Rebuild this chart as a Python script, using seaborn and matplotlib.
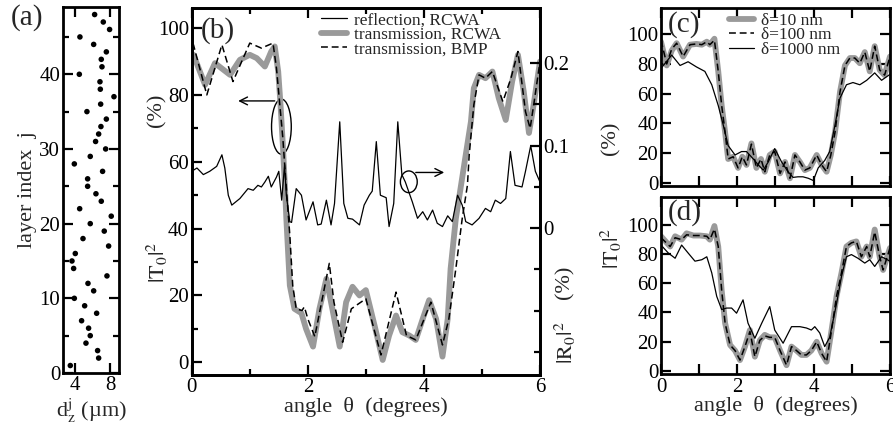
import numpy as np
import pandas as pd
import matplotlib
matplotlib.use("Agg")
import matplotlib.pyplot as plt
from matplotlib.patches import Ellipse
from matplotlib.lines import Line2D
from matplotlib.ticker import MultipleLocator, FixedLocator
import seaborn as sns

sns.set_theme(style="ticks")
plt.rcParams["font.family"] = "serif"
plt.rcParams["font.serif"] = ["Liberation Serif", "DejaVu Serif"]
plt.rcParams["mathtext.fontset"] = "stix"

GRAY = "#9a9a9a"

####### DATA ###############################################
# (a) layer thickness per layer index
layer_j = list(range(1, 49))
layer_dz = [3.43, 6.67, 6.55, 5.22, 5.71, 5.52, 4.72, 6.44, 5.07, 3.89,
            6.10, 5.45, 7.62, 3.81, 3.62, 4.00, 7.81, 4.88, 7.31, 5.71,
            8.11, 4.50, 6.97, 6.36, 5.41, 5.41, 7.12, 3.89, 5.71, 7.47,
            6.32, 6.67, 6.93, 7.55, 5.33, 6.90, 8.42, 6.86, 6.82, 4.46,
            7.05, 6.97, 7.55, 6.10, 4.53, 7.92, 7.20, 6.21]

# (b) transmission RCWA
b_trcwa_x = [0.0, 0.03, 0.23, 0.4, 0.66, 0.83, 1.0, 1.12, 1.26, 1.37, 1.43, 1.49,
             1.53, 1.57, 1.61, 1.63, 1.66, 1.69, 1.77, 1.89, 1.97, 2.09, 2.2, 2.32,
             2.4, 2.55, 2.66, 2.77, 2.89, 3.0, 3.15, 3.29, 3.4, 3.52, 3.63, 3.75,
             3.86, 3.98, 4.09, 4.21, 4.32, 4.41, 4.46, 4.55, 4.64, 4.72, 4.81, 4.86,
             4.95, 5.06, 5.18, 5.29, 5.41, 5.52, 5.62, 5.72, 5.81, 5.89, 6.0]
b_trcwa_y = [91, 92, 83, 89.5, 86, 90.5, 92, 91, 88.5, 93, 94.5, 87,
             77, 65, 51, 43, 33, 23, 16, 14.7, 10, 4.7, 16, 25,
             18, 4.7, 18, 22.6, 20, 21.6, 11, 0.7, 8, 14, 9, 8,
             6.7, 13, 18.6, 13, 1.7, 13, 28, 43, 53, 62, 72, 82,
             86, 85, 87, 79, 72.5, 84, 92, 81, 68.6, 77, 90]

# (b) transmission BMP
b_tbmp_x = [0.0, 0.03, 0.26, 0.52, 0.71, 1.0, 1.2, 1.4, 1.46, 1.57, 1.63, 1.69,
            1.74, 1.8, 1.9, 1.94, 2.0, 2.12, 2.37, 2.45, 2.6, 2.75, 2.89, 3.0,
            3.26, 3.52, 3.7, 3.86, 4.12, 4.32, 4.43, 4.55, 4.66, 4.75, 4.78, 4.86,
            4.95, 5.06, 5.18, 5.36, 5.5, 5.62, 5.75, 5.83, 5.9, 6.0]
b_tbmp_y = [95, 95, 80, 95, 84, 95.5, 94, 95.5, 88, 67, 52, 38,
            23, 16, 15.5, 16.6, 13, 7.7, 29.6, 18, 6, 16, 17.7, 19,
            2.2, 21, 8, 6.7, 18, 5.2, 13, 28, 43, 53, 62, 77,
            86, 85, 87, 78, 85, 93, 75, 70, 78, 90]

# (b) reflection RCWA (right axis)
b_r_x = [0.0, 0.09, 0.2, 0.31, 0.43, 0.52, 0.57, 0.63, 0.69, 0.83, 0.97, 1.06,
         1.14, 1.2, 1.26, 1.32, 1.37, 1.46, 1.5, 1.55, 1.6, 1.63, 1.69, 1.72,
         1.8, 1.89, 1.97, 2.09, 2.17, 2.23, 2.32, 2.4, 2.46, 2.55, 2.62, 2.69,
         2.77, 2.89, 2.97, 3.06, 3.11, 3.18, 3.25, 3.35, 3.4, 3.48, 3.55, 3.62,
         3.68, 3.8, 3.89, 3.98, 4.06, 4.15, 4.23, 4.32, 4.41, 4.49, 4.58, 4.66,
         4.72, 4.83, 4.95, 5.06, 5.15, 5.23, 5.32, 5.41, 5.49, 5.57, 5.69, 5.75,
         5.84, 5.92, 6.0]
b_r_y = [0.069, 0.073, 0.065, 0.069, 0.075, 0.089, 0.073, 0.040, 0.028, 0.036, 0.048, 0.046,
         0.052, 0.050, 0.056, 0.063, 0.050, 0.062, 0.069, 0.034, 0.077, 0.040, 0.008, 0.007,
         0.048, 0.040, 0.010, 0.032, 0.004, 0.005, 0.034, 0.004, 0.030, 0.129, 0.030, 0.012,
         0.011, 0.004, 0.028, 0.040, 0.045, 0.105, 0.040, 0.037, 0.002, 0.030, 0.129, 0.065,
         0.056, 0.032, 0.012, 0.020, 0.010, 0.022, 0.006, 0.002, 0.015, 0.008, 0.040, 0.028,
         0.008, 0.004, 0.012, 0.024, 0.020, 0.034, 0.030, 0.036, 0.093, 0.052, 0.050, 0.069,
         0.100, 0.069, 0.056]
b_r_ticks = [0, 0.1, 0.2]
b_r_ticklabels = ["0", "0.1", "0.2"]

# (c) |T0|^2 for three roughness values
c_x10 = [0.0, 0.15, 0.28, 0.41, 0.58, 0.76, 0.93, 1.07, 1.2, 1.28, 1.4, 1.5,
         1.59, 1.68, 1.76, 1.89, 2.02, 2.13, 2.24, 2.37, 2.5, 2.62, 2.72, 2.85,
         2.98, 3.12, 3.25, 3.38, 3.51, 3.64, 3.77, 3.9, 4.08, 4.21, 4.34, 4.45,
         4.56, 4.69, 4.82, 4.95, 5.08, 5.21, 5.34, 5.47, 5.6, 5.73, 5.86, 6.0]
c_y10 = [95, 79, 89, 94, 85, 93, 93.5, 93, 95, 93, 97, 75,
         52, 34, 16, 17.5, 10, 17.5, 12, 26.5, 10, 16, 7.4, 18.7,
         21, 6.3, 14, 3, 18.7, 14, 8.5, 10, 18.7, 12, 7.4, 18.7,
         34, 61, 79, 84, 84, 80.5, 88, 75, 92, 76, 72.5, 85]
c_y100 = [96, 80, 90, 94, 85, 93, 93.5, 93, 95, 93, 96, 75,
          52, 34, 16, 17.5, 10, 17.5, 12, 26, 10, 16, 7.4, 18.7,
          21, 6.3, 14, 3, 18.7, 14, 8.5, 10, 18.7, 12, 7.4, 18.7,
          34, 61, 79, 84, 84, 80.5, 88, 75, 92, 76, 72.5, 85]
c_x1000 = [0.0, 0.28, 0.5, 0.71, 0.93, 1.15, 1.33, 1.5, 1.63, 1.76, 1.94, 2.11,
           2.24, 2.42, 2.55, 2.68, 2.81, 2.98, 3.16, 3.33, 3.46, 3.59, 3.72, 3.86,
           3.99, 4.12, 4.29, 4.42, 4.56, 4.69, 4.86, 5.03, 5.21, 5.39, 5.6, 5.78, 6.0]
c_y1000 = [77, 86, 79, 81.5, 78, 75, 66, 52, 39, 25, 18.7, 21,
           21, 16, 12, 8.5, 14, 23, 14, 7.4, 3.6, 4, 4, 3,
           1.5, 10, 15, 21, 39, 57, 66, 67.5, 66, 69, 74, 69, 73]

# (d) |T0|^2 for three roughness values
d_x10 = [0.0, 0.24, 0.37, 0.54, 0.67, 0.85, 1.02, 1.2, 1.28, 1.4, 1.5, 1.59,
         1.68, 1.81, 1.94, 2.07, 2.2, 2.33, 2.46, 2.59, 2.72, 2.85, 2.98, 3.12,
         3.29, 3.42, 3.55, 3.68, 3.81, 3.94, 4.08, 4.21, 4.34, 4.47, 4.6, 4.73,
         4.86, 4.99, 5.12, 5.25, 5.39, 5.47, 5.6, 5.73, 5.82, 6.0]
d_y10 = [92, 85, 92, 89.7, 94, 92.5, 92.5, 92, 89.7, 99, 85, 55,
         32.7, 17.8, 14, 7.5, 16.7, 28, 9.8, 21, 24.7, 23, 23, 14,
         4, 16.7, 14, 11, 11, 14, 20, 12, 6.4, 28, 51, 67,
         85, 87.5, 88.5, 78, 85, 78, 96.6, 78, 69, 84]
d_y100 = [91, 85, 91, 89.7, 93, 92.5, 92.5, 92, 89.7, 97, 85, 55,
          32.7, 17.8, 14, 7.5, 16.7, 27, 9.8, 21, 24, 23, 23, 14,
          4, 16.7, 14, 11, 11, 14, 20, 12, 6.4, 28, 51, 67,
          85, 87.5, 88.5, 78, 85, 78, 95, 78, 69, 84]
d_x1000 = [0.0, 0.19, 0.37, 0.54, 0.71, 0.89, 1.07, 1.2, 1.33, 1.46, 1.59, 1.72,
           1.85, 1.98, 2.15, 2.28, 2.46, 2.64, 2.85, 2.98, 3.2, 3.42, 3.64, 3.81,
           3.94, 4.03, 4.16, 4.29, 4.42, 4.6, 4.73, 4.86, 4.99, 5.16, 5.34, 5.47,
           5.6, 5.78, 6.0]
d_y1000 = [86, 80.6, 77, 86, 80.6, 75, 76, 78, 67, 51, 42, 43,
           43, 39.5, 48.6, 32.7, 22.4, 32.7, 44, 28, 19, 30.3, 30.3, 29.4,
           28, 30.3, 26, 16.7, 23, 46, 64.6, 78, 79.5, 77, 73.7, 76,
           71.4, 78, 75]

legend_b = ["reflection, RCWA", "transmission, RCWA", "transmission, BMP"]
legend_cd = ["δ=10 nm", "δ=100 nm", "δ=1000 nm"]
####### END DATA ###########################################

TICK_FS = 15
LAB_FS = 16
PAN_FS = 21
LEG_FS = 12.5
DASH = (0, (4.5, 2.5))

fig = plt.figure(figsize=(8.93, 4.28), dpi=100)
fig.patch.set_facecolor("white")


def style(ax, right=True):
    for s in ax.spines.values():
        s.set_linewidth(2.0)
        s.set_color("black")
    ax.tick_params(which="both", direction="in", top=True, right=right,
                   width=1.6, labelsize=TICK_FS, colors="black", pad=2)
    ax.tick_params(which="major", length=7)
    ax.tick_params(which="minor", length=4.5)
    ax.set_facecolor("white")
    ax.grid(False)


# ---------- (a) ----------
ax_a = fig.add_axes([0.0706, 0.1285, 0.0627, 0.855])
sns.scatterplot(x=layer_dz, y=layer_j, ax=ax_a, color="black", s=16,
                edgecolor="none", legend=False)
ax_a.set_xlim(2.6, 9.0)
ax_a.set_ylim(0, 49)
ax_a.xaxis.set_major_locator(MultipleLocator(4))
ax_a.yaxis.set_major_locator(MultipleLocator(10))
ax_a.yaxis.set_minor_locator(MultipleLocator(5))
style(ax_a)
ax_a.set_xlabel(r"d$_\mathrm{z}^\mathrm{j}$ (µm)", fontsize=LAB_FS, labelpad=1)
ax_a.set_ylabel("layer index  j", fontsize=LAB_FS, labelpad=2)
fig.text(0.012, 0.99, "(a)", fontsize=PAN_FS, va="top", ha="left")

# ---------- (b) ----------
ax_b = fig.add_axes([0.2147, 0.1238, 0.39, 0.8575])
sns.lineplot(x=b_trcwa_x, y=b_trcwa_y, ax=ax_b, color=GRAY, lw=4.2,
             estimator=None, sort=False)
sns.lineplot(x=b_tbmp_x, y=b_tbmp_y, ax=ax_b, color="black", lw=1.1,
             linestyle=DASH, estimator=None, sort=False)
ax_b.set_xlim(0, 6)
ax_b.set_ylim(-3.8, 106)
ax_b.xaxis.set_major_locator(MultipleLocator(2))
ax_b.xaxis.set_minor_locator(MultipleLocator(1))
ax_b.yaxis.set_major_locator(MultipleLocator(20))
ax_b.yaxis.set_minor_locator(MultipleLocator(10))
style(ax_b, right=False)
ax_b.set_xlabel("angle  θ  (degrees)", fontsize=LAB_FS, labelpad=0)
ax_b.set_ylabel("")

ax_r = ax_b.twinx()
sns.lineplot(x=b_r_x, y=b_r_y, ax=ax_r, color="black", lw=0.9,
             estimator=None, sort=False)
ax_r.set_ylim(-0.178, 0.267)
ax_r.yaxis.set_major_locator(FixedLocator(b_r_ticks))
ax_r.yaxis.set_minor_locator(FixedLocator([-0.15, -0.1, -0.05, 0.05, 0.15]))
ax_r.set_yticklabels(b_r_ticklabels)
style(ax_r)
ax_r.tick_params(which="both", left=False, top=False)
ax_r.set_ylabel("")
ax_r.set_xlim(0, 6)

ax_b.text(0.025, 0.975, "(b)", transform=ax_b.transAxes, fontsize=PAN_FS,
          va="top", ha="left")

# annotations
ax_b.add_patch(Ellipse((1.545, 70.5), 0.34, 16.5, fill=False, lw=1.0, ec="black"))
ax_b.annotate("", xy=(0.8, 78.2), xytext=(1.43, 78.2),
              arrowprops=dict(arrowstyle="->", lw=1.0, color="black",
                              mutation_scale=14, shrinkA=0, shrinkB=0))
ax_b.add_patch(Ellipse((3.74, 54), 0.29, 6.5, fill=False, lw=1.0, ec="black"))
ax_b.annotate("", xy=(4.35, 56.8), xytext=(3.86, 56.8),
              arrowprops=dict(arrowstyle="->", lw=1.0, color="black",
                              mutation_scale=14, shrinkA=0, shrinkB=0))

hb = [Line2D([], [], color="black", lw=0.9),
      Line2D([], [], color=GRAY, lw=4.2),
      Line2D([], [], color="black", lw=1.1, linestyle=DASH)]
ax_r.legend(hb, legend_b, loc="upper left", bbox_to_anchor=(0.36, 1.0),
            frameon=False, fontsize=LEG_FS, handlelength=1.5, handletextpad=0.4,
            labelspacing=-0.1, borderaxespad=0.15, borderpad=0.1)

# y labels of (b)
fig.text(0.176, 1 - 110 / 428, "(%)", rotation=90, fontsize=LAB_FS,
         ha="center", va="center")
fig.text(0.176, 1 - 262 / 428, r"$|\mathrm{T}_0|^2$", rotation=90, fontsize=LAB_FS,
         ha="center", va="center")
fig.text(565 / 893, 1 - 282 / 428, "(%)", rotation=90, fontsize=LAB_FS,
         ha="center", va="center")
fig.text(565 / 893, 1 - 343 / 428, r"$|\mathrm{R}_0|^2$", rotation=90, fontsize=LAB_FS,
         ha="center", va="center")

# ---------- (c) and (d) ----------
ax_c = fig.add_axes([0.7402, 0.5661, 0.2564, 0.4145])
ax_d = fig.add_axes([0.7402, 0.1262, 0.2564, 0.4142])

panels = [(ax_c, c_x10, c_y10, c_y100, c_x1000, c_y1000, (-2, 117.5), "(c)"),
          (ax_d, d_x10, d_y10, d_y100, d_x1000, d_y1000, (-2, 119), "(d)")]
for ax, x10, y10, y100, x1000, y1000, ylim, tag in panels:
    sns.lineplot(x=x10, y=y10, ax=ax, color=GRAY, lw=4.2, estimator=None, sort=False)
    sns.lineplot(x=x10, y=y100, ax=ax, color="black", lw=1.1, linestyle=DASH,
                 estimator=None, sort=False)
    sns.lineplot(x=x1000, y=y1000, ax=ax, color="black", lw=0.9,
                 estimator=None, sort=False)
    ax.set_xlim(0, 6)
    ax.set_ylim(*ylim)
    ax.xaxis.set_major_locator(MultipleLocator(2))
    ax.xaxis.set_minor_locator(MultipleLocator(1))
    ax.yaxis.set_major_locator(MultipleLocator(20))
    style(ax)
    ax.tick_params(which="minor", length=7)
    ax.tick_params(axis="y", pad=2)
    ax.set_ylabel("")
    ax.text(0.03, 0.985, tag, transform=ax.transAxes, fontsize=PAN_FS,
            va="top", ha="left")

ax_c.set_xticklabels([])
ax_c.set_xlabel("")
ax_d.tick_params(axis="x", pad=3)
ax_d.set_xlabel("angle  θ  (degrees)", fontsize=LAB_FS, labelpad=-1)

hc = [Line2D([], [], color=GRAY, lw=4.2),
      Line2D([], [], color="black", lw=1.1, linestyle=DASH),
      Line2D([], [], color="black", lw=0.9)]
ax_c.legend(hc, legend_cd, loc="upper left", bbox_to_anchor=(0.28, 1.0),
            frameon=False, fontsize=LEG_FS, handlelength=1.4, handletextpad=0.4,
            labelspacing=-0.1, borderaxespad=0.15, borderpad=0.1)

fig.text(611 / 893, 1 - 138 / 428, "(%)", rotation=90, fontsize=LAB_FS,
         ha="center", va="center")
fig.text(611 / 893, 1 - 248 / 428, r"$|\mathrm{T}_0|^2$", rotation=90, fontsize=LAB_FS,
         ha="center", va="center")

fig.savefig("out.png", dpi=100, facecolor="white")
